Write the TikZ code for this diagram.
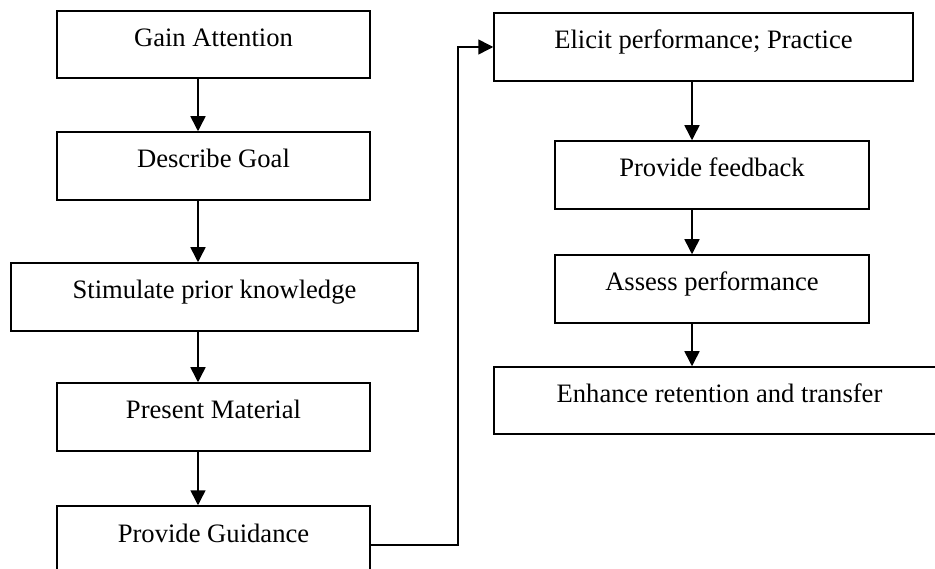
\documentclass[tikz,border=0pt]{standalone}
\usepackage{fontspec}
\setmainfont{Liberation Serif}
\usetikzlibrary{arrows.meta}
\begin{document}
\begin{tikzpicture}[x=1pt,y=-1pt,
  box/.style={draw, line width=1.5pt, rectangle, inner sep=0pt, align=center,
    font=\fontsize{26.6}{30}\selectfont, text height=18.5pt, text depth=14.5pt},
  arr/.style={line width=1.5pt, -{Triangle[width=15pt,length=15pt]}},
  conn/.style={line width=1.5pt}]
\useasboundingbox (0,0) rectangle (935,569);
\node[box, minimum width=313pt, minimum height=67pt] (ga) at (213.5,44.5) {Gain Attention};
\node[box, minimum width=313pt, minimum height=68pt] (dg) at (213.5,166) {Describe Goal};
\node[box, minimum width=407pt, minimum height=68pt] (sp) at (214.5,297) {Stimulate prior knowledge};
\node[box, minimum width=313pt, minimum height=68pt] (pm) at (213.5,417) {Present Material};
\node[box, minimum width=313pt, minimum height=68pt] (pg) at (213.5,540) {Provide Guidance};
\node[box, minimum width=419pt, minimum height=68pt] (el) at (703.5,47) {Elicit performance; Practice};
\node[box, minimum width=314pt, minimum height=68pt] (pf) at (712,175) {Provide feedback};
\node[box, minimum width=314pt, minimum height=68pt] (ap) at (712,289) {Assess performance};
\node[box, minimum width=451pt, minimum height=67pt] (en) at (719.5,400.5) {Enhance retention and transfer};
\coordinate (colL) at (198,0);
\coordinate (colR) at (692,0);
\coordinate (bend) at (458,0);
\draw[arr] (ga.south -| colL) -- (dg.north -| colL);
\draw[arr] (dg.south -| colL) -- (sp.north -| colL);
\draw[arr] (sp.south -| colL) -- (pm.north -| colL);
\draw[arr] (pm.south -| colL) -- (pg.north -| colL);
\draw[arr] (el.south -| colR) -- (pf.north -| colR);
\draw[arr] (pf.south -| colR) -- (ap.north -| colR);
\draw[arr] (ap.south -| colR) -- (en.north -| colR);
\draw[arr] ([yshift=-5pt]pg.east) -- ([yshift=-5pt]pg.east -| bend) -- (bend |- el.west) -- (el.west);
\end{tikzpicture}
\end{document}
